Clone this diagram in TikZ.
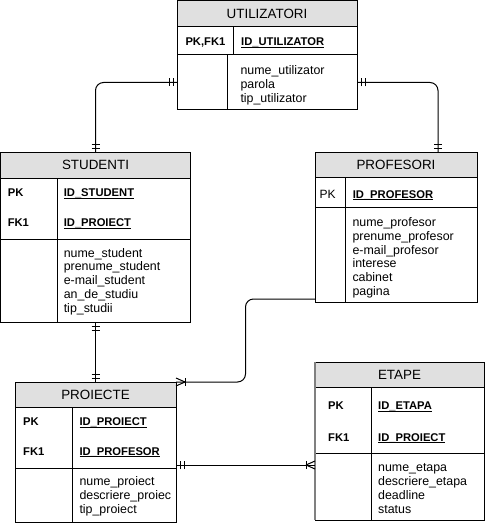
\documentclass[tikz,border=0pt]{standalone}
\usepackage{fontspec}
\setmainfont{Liberation Sans}
\usetikzlibrary{positioning,calc,decorations.markings}
\definecolor{hdrgray}{RGB}{224,224,224}
\newcommand{\keyul}[1]{\setbox0\hbox{#1}\rlap{\rule[-2.2pt]{\wd0}{0.9pt}}\box0}
\tikzstyle{hdr} = [draw, rectangle, fill=hdrgray, inner sep=0pt, outer sep=0pt, anchor=north west, font=\fontsize{13.4}{16}\selectfont]
\tikzstyle{part} = [draw, rectangle, inner sep=0pt, outer sep=0pt]
\tikzstyle{keylabel} = [anchor=base west, inner sep=0pt, font=\fontsize{11.2}{13}\selectfont\bfseries]
\tikzstyle{attrlist} = [anchor=north west, inner sep=0pt, align=left, font=\fontsize{12.4}{13.8}\selectfont]
\tikzstyle{rel} = [draw, rounded corners=8pt]
\tikzstyle{one at start} = [postaction={decorate, decoration={markings,
    mark=at position 4pt with {\draw (0,-4pt) -- (0,4pt);},
    mark=at position 8pt with {\draw (0,-4pt) -- (0,4pt);}}}]
\tikzstyle{one at end} = [postaction={decorate, decoration={markings,
    mark=at position -4pt with {\draw (0,-4pt) -- (0,4pt);},
    mark=at position -8pt with {\draw (0,-4pt) -- (0,4pt);}}}]
\tikzstyle{many at end} = [postaction={decorate, decoration={markings,
    mark=at position -9pt with {\draw (0,-4pt) -- (0,4pt); \draw (0,0) -- (9pt,4pt); \draw (0,0) -- (9pt,-4pt);}}}]

\begin{document}
\begin{tikzpicture}[x=1pt, y=-1pt, line width=1pt]
    \useasboundingbox (0,0) rectangle (486,524);

    % UTILIZATORI
    \node[hdr, minimum width=180pt, minimum height=26.5pt] (util) at (177,0.5) {UTILIZATORI};
    \node[part, below=0pt of util, minimum width=180pt, minimum height=28pt] (util-keys) {};
    \node[part, below=0pt of util-keys, minimum width=180pt, minimum height=55pt] (util-attrs) {};
    \draw ([xshift=56pt]util-keys.north west) -- ([xshift=56pt]util-keys.south west);
    \draw ([xshift=50pt]util-attrs.north west) -- ([xshift=50pt]util-attrs.south west);
    \node[keylabel] (util-pk) at (185,46) {PK,FK1};
    \node[keylabel] (util-id) at (240.7,46) {\keyul{ID\_UTILIZATOR}};
    \node[attrlist] (util-list) at (240,65) {nume\_utilizator\\parola\\tip\_utilizator};

    % STUDENTI
    \node[hdr, minimum width=190pt, minimum height=26pt] (stud) at (0.5,152) {STUDENTI};
    \node[part, below=0pt of stud, minimum width=190pt, minimum height=61pt] (stud-keys) {};
    \node[part, below=0pt of stud-keys, minimum width=190pt, minimum height=83pt] (stud-attrs) {};
    \draw ([xshift=56.5pt]stud-keys.north west) -- ([xshift=56.5pt]stud-attrs.south west);
    \node[keylabel] (stud-pk) at (7.3,196.7) {PK};
    \node[keylabel] (stud-fk) at (7.3,226.7) {FK1};
    \node[keylabel] (stud-id) at (63.3,196.7) {\keyul{ID\_STUDENT}};
    \node[keylabel] (stud-pr) at (63.3,226.7) {\keyul{ID\_PROIECT}};
    \node[attrlist] (stud-list) at (63.3,247.7) {nume\_student\\prenume\_student\\e-mail\_student\\an\_de\_studiu\\tip\_studii};

    % PROFESORI
    \node[hdr, minimum width=162pt, minimum height=25pt] (prof) at (315,152) {PROFESORI};
    \node[part, below=0pt of prof, minimum width=162pt, minimum height=30.5pt] (prof-keys) {};
    \node[part, below=0pt of prof-keys, minimum width=162pt, minimum height=94.5pt] (prof-attrs) {};
    \draw ([xshift=30pt]prof-keys.north west) -- ([xshift=30pt]prof-attrs.south west);
    \node[keylabel, font=\fontsize{12}{13}\selectfont] (prof-pk) at (319,198) {PK};
    \node[keylabel] (prof-id) at (352.3,198) {\keyul{ID\_PROFESOR}};
    \node[attrlist] (prof-list) at (352,217) {nume\_profesor\\prenume\_profesor\\e-mail\_profesor\\interese\\cabinet\\pagina};

    % PROIECTE
    \node[hdr, minimum width=161pt, minimum height=25pt] (proj) at (15,382) {PROIECTE};
    \node[part, below=0pt of proj, minimum width=161pt, minimum height=61pt] (proj-keys) {};
    \node[part, below=0pt of proj-keys, minimum width=161pt, minimum height=54pt] (proj-attrs) {};
    \draw ([xshift=57pt]proj-keys.north west) -- ([xshift=57pt]proj-attrs.south west);
    \node[keylabel] (proj-pk) at (22.7,425.7) {PK};
    \node[keylabel] (proj-fk) at (22.7,455) {FK1};
    \node[keylabel] (proj-id) at (79,425.7) {\keyul{ID\_PROIECT}};
    \node[keylabel] (proj-pf) at (79,455) {\keyul{ID\_PROFESOR}};
    \node[attrlist] (proj-list) at (79,476) {nume\_proiect\\descriere\_proiec\\tip\_proiect};

    % ETAPE
    \node[hdr, minimum width=169pt, minimum height=25pt] (etape) at (315,362) {ETAPE};
    \node[part, below=0pt of etape, minimum width=169pt, minimum height=66pt] (etape-keys) {};
    \node[part, below=0pt of etape-keys, minimum width=169pt, minimum height=67pt] (etape-attrs) {};
    \draw ([xshift=56pt]etape-keys.north west) -- ([xshift=56pt]etape-attrs.south west);
    \draw[gray, line width=2.5pt] (etape.north west) -- (etape-attrs.south west);
    \node[keylabel] (etape-pk) at (327.7,409.5) {PK};
    \node[keylabel] (etape-fk) at (327.7,441) {FK1};
    \node[keylabel] (etape-id) at (377.7,409.5) {\keyul{ID\_ETAPA}};
    \node[keylabel] (etape-pr) at (377.7,441) {\keyul{ID\_PROIECT}};
    \node[attrlist] (etape-list) at (377.7,463.3) {nume\_etapa\\descriere\_etapa\\deadline\\status};

    % relationships
    \path[rel, one at start, one at end] (util-attrs.west) -| (stud.north);
    \path[rel, one at start, one at end] (util-attrs.east) -| ([xshift=42pt]prof.north);
    \path[rel, one at start, one at end] (stud-attrs.south) -- (proj.north);
    \path[rel, many at end] ([yshift=3pt]prof-attrs.south west) -| ($(prof-attrs.south west)!.5!(proj.north east)$) |- (proj.north east);
    \path[rel, one at start, many at end] ([yshift=3pt]proj-keys.south east) coordinate (pe) -- (pe -| etape-attrs.west);
\end{tikzpicture}
\end{document}
